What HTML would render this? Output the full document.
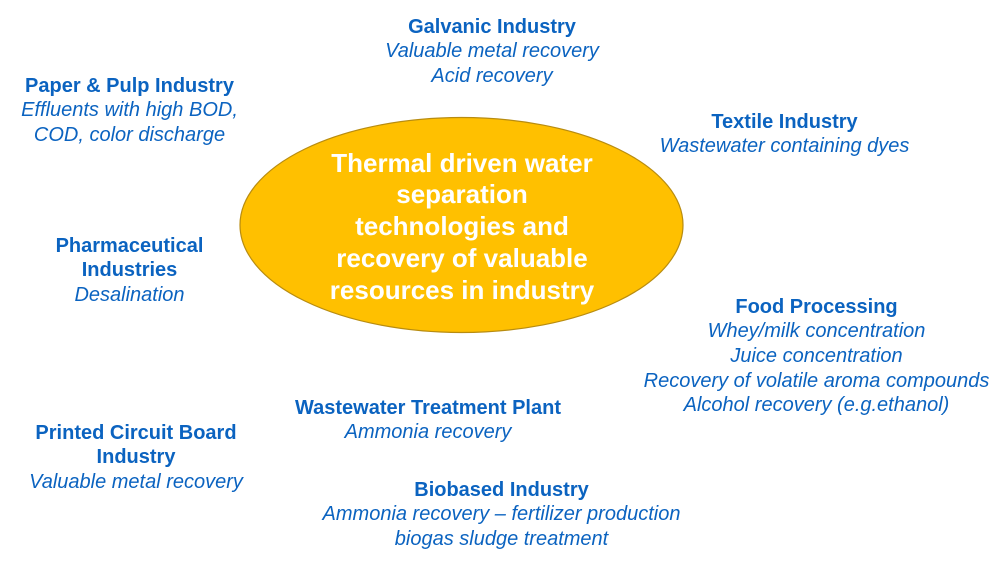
<!DOCTYPE html>
<html>
<head>
<meta charset="utf-8">
<style>
  html, body { margin:0; padding:0; background:#ffffff; }
  body { width:1000px; height:565px; position:relative; overflow:hidden; font-family:"Liberation Sans", Arial, sans-serif; }
  .blk { position:absolute; text-align:center; color:#0b63c0; font-size:20px; line-height:24.7px; white-space:nowrap; }
  .blk b { font-weight:bold; }
  .blk i { font-style:italic; }
  .center { position:absolute; left:262px; width:400px; top:147.5px; text-align:center; color:#ffffff; font-weight:bold; font-size:26px; line-height:31.8px; white-space:nowrap; }
  svg { position:absolute; left:0; top:0; }
</style>
</head>
<body>
<svg width="1000" height="565" viewBox="0 0 1000 565">
  <ellipse cx="461.5" cy="225" rx="221.5" ry="107.5" fill="#ffc000" stroke="#b88c10" stroke-width="1.2"/>
</svg>
<div class="center">Thermal driven water<br>separation<br>technologies and<br>recovery of valuable<br>resources in industry</div>

<div class="blk" style="left:292px;width:400px;top:14.5px;"><b>Galvanic Industry</b><br><i>Valuable metal recovery</i><br><i>Acid recovery</i></div>

<div class="blk" style="left:-70.5px;width:400px;top:73.5px;"><b>Paper &amp; Pulp Industry</b><br><i>Effluents with high BOD,</i><br><i>COD, color discharge</i></div>

<div class="blk" style="left:584.5px;width:400px;top:109.5px;"><b>Textile Industry</b><br><i>Wastewater containing dyes</i></div>

<div class="blk" style="left:-70.5px;width:400px;top:233.5px;"><b>Pharmaceutical</b><br><b>Industries</b><br><i>Desalination</i></div>

<div class="blk" style="left:616.5px;width:400px;top:294.5px;"><b>Food Processing</b><br><i>Whey/milk concentration</i><br><i>Juice concentration</i><br><i>Recovery of volatile aroma compounds</i><br><i>Alcohol recovery (e.g.ethanol)</i></div>

<div class="blk" style="left:228px;width:400px;top:395.5px;"><b>Wastewater Treatment Plant</b><br><i>Ammonia recovery</i></div>

<div class="blk" style="left:-64px;width:400px;top:420.5px;"><b>Printed Circuit Board</b><br><b>Industry</b><br><i>Valuable metal recovery</i></div>

<div class="blk" style="left:301.5px;width:400px;top:477.5px;"><b>Biobased Industry</b><br><i>Ammonia recovery – fertilizer production</i><br><i>biogas sludge treatment</i></div>
</body>
</html>
